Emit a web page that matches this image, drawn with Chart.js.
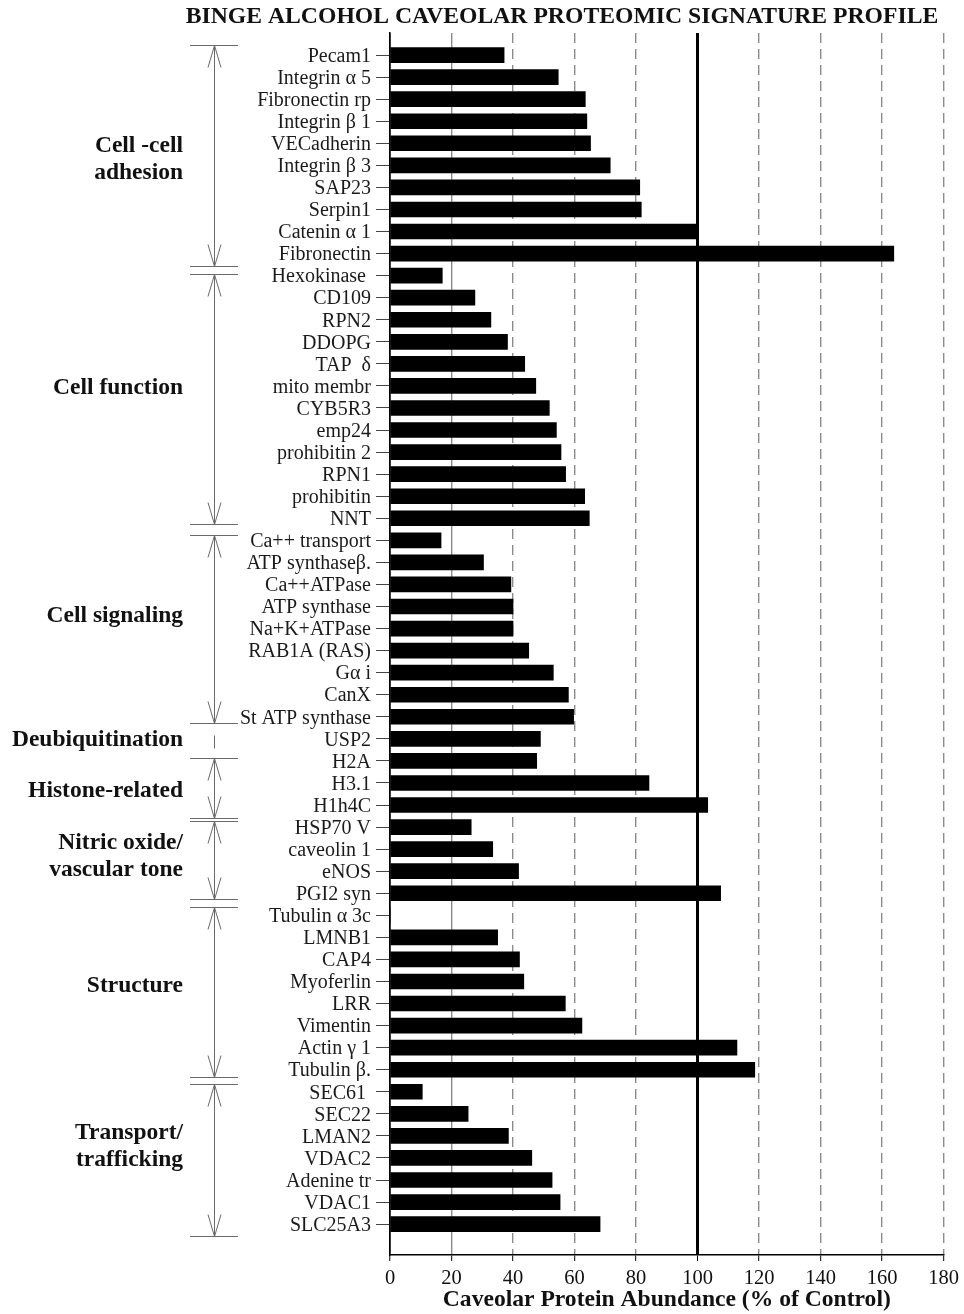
<!DOCTYPE html>
<html>
<head>
<meta charset="utf-8">
<script src="https://cdn.jsdelivr.net/npm/chart.js"></script>
<style>
  html, body { margin: 0; padding: 0; background: #fff; }
  #wrap { width: 964px; height: 1314px; }
</style>
</head>
<body>
<div id="wrap"><canvas id="c" width="964" height="1314"></canvas></div>
<script>
// ---------------- DATA ----------------
const chartTitle = "BINGE ALCOHOL CAVEOLAR PROTEOMIC SIGNATURE PROFILE";
const xAxisTitle = "Caveolar Protein Abundance (% of Control)";

const categories = [
  "Pecam1", "Integrin α 5", "Fibronectin rp", "Integrin β 1", "VECadherin",
  "Integrin β 3", "SAP23", "Serpin1", "Catenin α 1", "Fibronectin",
  "Hexokinase ", "CD109", "RPN2", "DDOPG", "TAP  δ", "mito membr", "CYB5R3",
  "emp24", "prohibitin 2", "RPN1", "prohibitin", "NNT",
  "Ca++ transport", "ATP synthaseβ.", "Ca++ATPase", "ATP synthase",
  "Na+K+ATPase", "RAB1A (RAS)", "Gα i", "CanX", "St ATP synthase",
  "USP2",
  "H2A", "H3.1", "H1h4C",
  "HSP70 V", "caveolin 1", "eNOS", "PGI2 syn",
  "Tubulin α 3c", "LMNB1", "CAP4", "Myoferlin", "LRR", "Vimentin",
  "Actin γ 1", "Tubulin β.",
  "SEC61 ", "SEC22", "LMAN2", "VDAC2", "Adenine tr", "VDAC1", "SLC25A3"
];

const abundance = [
  37.1, 54.7, 63.5, 64.0, 65.2, 71.6, 81.2, 81.7, 100, 163.8,
  17.0, 27.6, 32.8, 38.2, 43.8, 47.4, 51.8, 54.1, 55.6, 57.1, 63.3, 64.8,
  16.6, 30.4, 39.3, 40.0, 40.0, 45.1, 53.1, 58.0, 59.7,
  48.9,
  47.7, 84.2, 103.3,
  26.4, 33.4, 41.8, 107.5,
  0, 35.0, 42.1, 43.5, 57.0, 62.4, 112.8, 118.6,
  10.5, 25.4, 38.5, 46.1, 52.7, 55.3, 68.3
];

const groupNames = [
  ["Cell -cell", "adhesion"],
  ["Cell function"],
  ["Cell signaling"],
  ["Deubiquitination"],
  ["Histone-related"],
  ["Nitric oxide/", "vascular tone"],
  ["Structure"],
  ["Transport/", "trafficking"]
];
const groupSizes = [10, 12, 9, 1, 3, 4, 8, 7];

const xTicks = [0, 20, 40, 60, 80, 100, 120, 140, 160, 180];

// ---------------- LAYOUT (annotation positions in category-index units) ----------------
const groupSpans = [
  [-0.45, 9.56], [9.93, 21.28], [21.76, 30.28], [30.82, 31.41],
  [31.86, 34.59], [34.72, 38.26], [38.62, 46.33], [46.65, 53.54]
];
const groupLabelPos = [4.69, 15.05, 25.39, 31.0, 33.32, 36.29, 42.16, 49.43];

const SERIF = '"Liberation Serif", "Times New Roman", serif';

const annotPlugin = {
  id: 'annot',
  beforeDraw(chart) {
    const ctx = chart.ctx;
    ctx.save();
    ctx.fillStyle = '#fff';
    ctx.fillRect(0, 0, chart.width, chart.height);
    ctx.restore();
  },
  afterDraw(chart) {
    const ctx = chart.ctx;
    const ys = chart.scales.y;
    ctx.save();
    // Title
    ctx.font = 'bold 23.7px ' + SERIF;
    ctx.fillStyle = '#111';
    ctx.textAlign = 'center';
    ctx.textBaseline = 'middle';
    ctx.fillText(chartTitle, 562, 17);

    // Brackets
    const vx = 214.5, hx0 = 190, hx1 = 238, aw = 6.5, al = 22;
    ctx.strokeStyle = '#6a6a6a';
    ctx.lineWidth = 1;
    const seg = (x0, y0, x1, y1) => { ctx.beginPath(); ctx.moveTo(x0, y0); ctx.lineTo(x1, y1); ctx.stroke(); };
    groupSpans.forEach((s, gi) => {
      const a = Math.round(ys.getPixelForValue(s[0])) + 0.5;
      const b = Math.round(ys.getPixelForValue(s[1])) + 0.5;
      if (groupSizes[gi] === 1) { seg(vx, a, vx, b); return; }
      seg(hx0, a, hx1, a);
      seg(hx0, b, hx1, b);
      seg(vx, a, vx, b);
      ctx.beginPath(); ctx.moveTo(vx - aw, a + al); ctx.lineTo(vx, a); ctx.lineTo(vx + aw, a + al); ctx.stroke();
      ctx.beginPath(); ctx.moveTo(vx - aw, b - al); ctx.lineTo(vx, b); ctx.lineTo(vx + aw, b - al); ctx.stroke();
    });

    // Group labels
    ctx.font = 'bold 23.5px ' + SERIF;
    ctx.fillStyle = '#111';
    ctx.textAlign = 'right';
    ctx.textBaseline = 'middle';
    groupNames.forEach((lines, gi) => {
      const cy = ys.getPixelForValue(groupLabelPos[gi]) + 1;
      const lh = 27;
      const start = cy - (lines.length - 1) * lh / 2;
      lines.forEach((t, li) => ctx.fillText(t, 183, start + li * lh));
    });
    ctx.restore();
  }
};

const dashed = [10, 6];

new Chart(document.getElementById('c'), {
  type: 'bar',
  data: {
    datasets: [{
      label: 'Abundance',
      data: abundance.map((v, i) => ({ x: v, y: i })),
      backgroundColor: '#000',
      borderWidth: 0,
      barThickness: 15
    }]
  },
  plugins: [annotPlugin],
  options: {
    indexAxis: 'y',
    responsive: false,
    animation: false,
    devicePixelRatio: 1,
    layout: { padding: { top: 33, right: 18, bottom: 0, left: 0 } },
    plugins: {
      legend: { display: false },
      tooltip: { enabled: false },
      title: { display: false }
    },
    scales: {
      x: {
        type: 'linear',
        min: 0, max: 180,
        offset: false,
        afterFit(scale) { scale.height = 59; },
        afterBuildTicks(scale) { scale.ticks = xTicks.map(v => ({ value: v })); },
        ticks: {
          stepSize: 20,
          font: { family: SERIF, size: 20.5 },
          color: '#111',
          padding: 5,
          maxRotation: 0
        },
        grid: {
          offset: false,
          color: (ctx) => {
            const v = ctx.tick ? ctx.tick.value : null;
            if (v === 100 || v === 0) return '#000';
            return '#8c8c8c';
          },
          lineWidth: (ctx) => {
            const v = ctx.tick ? ctx.tick.value : null;
            if (v === 100) return 3;
            if (v === 0) return 1.5;
            return 1.4;
          },
          tickBorderDash: [],
          tickColor: '#000',
          tickWidth: 1,
          tickLength: 6,
          drawTicks: true
        },
        border: {
          display: true, color: '#000', width: 1.5,
          dash: (ctx) => {
            const v = ctx.tick ? ctx.tick.value : null;
            if (v === null || v === 0 || v === 20 || v === 100) return [];
            return dashed;
          }
        },
        title: {
          display: true,
          text: xAxisTitle,
          font: { family: SERIF, size: 23.6, weight: 'bold' },
          color: '#111',
          padding: { top: 0, bottom: 0 }
        }
      },
      y: {
        type: 'linear',
        reverse: true,
        min: -1, max: 54.4,
        offset: false,
        afterFit(scale) { scale.width = 390; },
        afterBuildTicks(scale) { scale.ticks = categories.map((c, i) => ({ value: i })); },
        ticks: {
          autoSkip: false,
          font: { family: SERIF, size: 20, lineHeight: 1 },
          color: '#1a1a1a',
          padding: 5,
          labelOffset: 1.5,
          callback: (v) => categories[v]
        },
        grid: {
          offset: false,
          drawOnChartArea: false,
          drawTicks: true,
          tickLength: 14,
          tickColor: '#444',
          tickWidth: 1
        },
        border: { display: true, color: '#000', width: 1.5 }
      }
    }
  }
});
</script>
</body>
</html>
